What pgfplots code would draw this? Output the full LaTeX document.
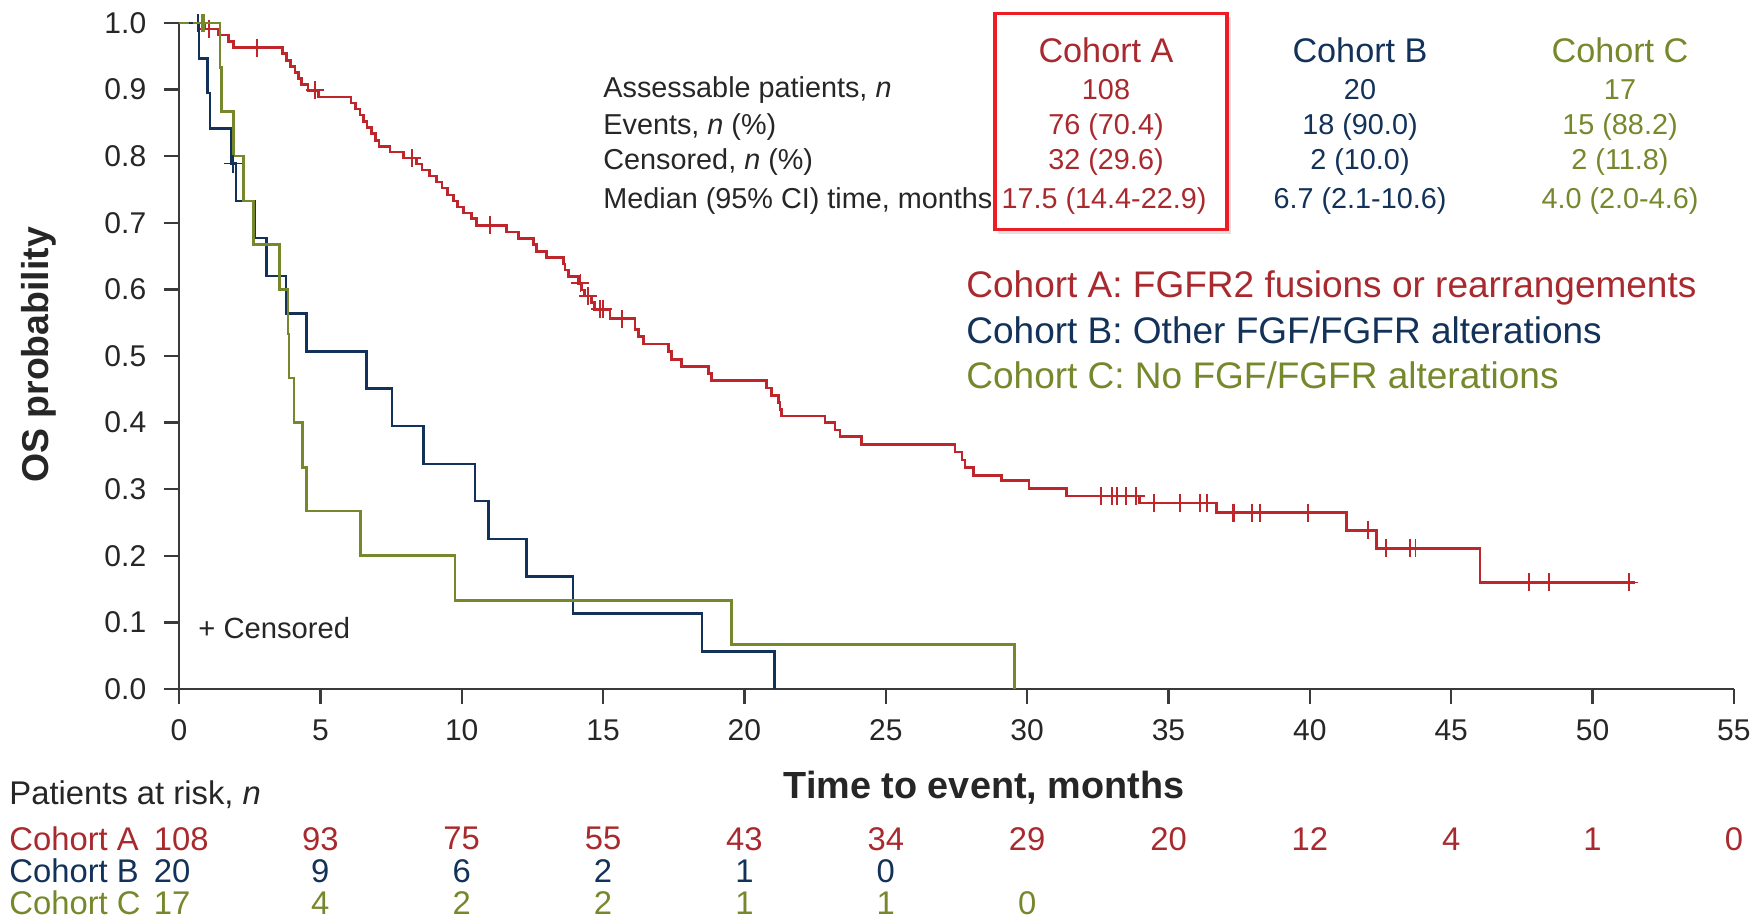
\documentclass[border=0pt]{standalone}
\usepackage{fontspec}
\setmainfont{Liberation Sans}
\usepackage{pgfplots}
\usepackage{pgfplotstable}
\pgfplotsset{compat=1.18}

\definecolor{cohA}{HTML}{BE262C}
\definecolor{cohAtxt}{HTML}{A92A2E}
\definecolor{cohB}{HTML}{12325A}
\definecolor{cohC}{HTML}{76882C}
\definecolor{axisgray}{HTML}{3A3A3A}
\definecolor{txt}{HTML}{262626}
\definecolor{boxred}{HTML}{EE1C24}

% Kaplan-Meier steps: from time t the survival is S
\pgfplotstableread{
t S
0.00 1.000
0.90 0.991
1.39 0.982
1.75 0.972
1.92 0.963
3.66 0.954
3.81 0.944
3.95 0.935
4.10 0.926
4.22 0.917
4.34 0.908
4.57 0.899
4.93 0.889
6.08 0.880
6.25 0.871
6.40 0.862
6.52 0.852
6.65 0.843
6.80 0.834
6.95 0.824
7.08 0.815
7.46 0.806
7.94 0.797
8.41 0.788
8.60 0.779
8.85 0.770
9.11 0.761
9.30 0.752
9.50 0.742
9.70 0.733
9.85 0.724
10.06 0.715
10.35 0.706
10.53 0.696
11.59 0.686
12.00 0.676
12.53 0.667
12.65 0.657
13.00 0.648
13.60 0.638
13.65 0.629
13.77 0.619
14.13 0.609
14.24 0.599
14.35 0.590
14.60 0.580
14.70 0.570
15.25 0.556
16.13 0.540
16.25 0.529
16.42 0.518
17.31 0.507
17.43 0.495
17.78 0.484
18.72 0.474
18.84 0.463
20.79 0.452
20.96 0.441
21.20 0.430
21.26 0.420
21.32 0.410
22.85 0.400
23.20 0.389
23.38 0.379
24.15 0.367
27.45 0.356
27.69 0.344
27.80 0.333
28.10 0.321
29.10 0.313
30.07 0.301
31.39 0.290
33.98 0.279
36.69 0.265
41.29 0.238
42.35 0.211
46.02 0.160
51.50 0.160
}\cohortA

\pgfplotstableread{
t S
1.07 0.991
2.75 0.963
4.80 0.899
8.23 0.797
11.00 0.696
14.20 0.609
14.48 0.590
14.90 0.570
15.00 0.570
15.66 0.556
32.60 0.290
33.00 0.290
33.19 0.290
33.50 0.290
33.86 0.290
34.50 0.279
35.42 0.279
36.12 0.279
36.36 0.279
37.28 0.265
37.33 0.265
37.96 0.265
38.23 0.265
39.94 0.265
42.06 0.238
42.70 0.211
43.54 0.211
43.74 0.211
47.76 0.160
48.45 0.160
51.30 0.160
}\cohortAcens

\pgfplotstableread{
t S
0.00 1.000
0.71 0.947
1.01 0.895
1.10 0.842
1.86 0.789
2.02 0.733
2.69 0.677
3.10 0.620
3.78 0.564
4.50 0.507
6.64 0.451
7.53 0.395
8.65 0.338
10.47 0.282
10.95 0.225
12.30 0.169
13.93 0.113
18.50 0.056
21.06 0.000
}\cohortB

\pgfplotstableread{
t S
0.66 1.000
1.92 0.789
}\cohortBcens

\pgfplotstableread{
t S
0.00 1.000
1.45 0.933
1.51 0.867
1.92 0.800
2.28 0.733
2.64 0.667
3.55 0.600
3.85 0.533
3.89 0.467
4.07 0.400
4.37 0.333
4.50 0.267
6.43 0.200
9.76 0.133
19.55 0.067
29.55 0.000
}\cohortC

\pgfplotstableread{
t S
0.80 1.000
0.88 1.000
}\cohortCcens

\newcommand{\fs}[1]{\fontsize{#1}{#1}\selectfont}

\begin{document}
\begin{tikzpicture}
\useasboundingbox (0,0) rectangle (878.5pt,460pt);

\begin{axis}[
  at={(89.5pt,115.5pt)}, anchor=south west,
  scale only axis, width=777.45pt, height=333pt,
  xmin=0, xmax=55, ymin=0, ymax=1,
  axis lines=left,
  axis line style={-, axisgray, line width=1.2pt},
  xtick={0,5,10,15,20,25,30,35,40,45,50,55},
  ytick={0,0.1,0.2,0.3,0.4,0.5,0.6,0.7,0.8,0.9,1.0},
  tick align=outside, major tick length=7.5pt,
  tick style={axisgray, line width=1.2pt},
  /pgf/number format/assume math mode=true,
  yticklabel style={/pgf/number format/fixed, /pgf/number format/fixed zerofill, /pgf/number format/precision=1},
  yticklabel style={font=\fs{15}, text=txt, inner sep=0pt, anchor=east, xshift=-8.7pt},
  xticklabel style={font=\fs{15}, text=txt, inner sep=0pt, anchor=north, yshift=-7.7pt},
  clip=false,
]
\addplot[const plot, cohA, line width=1.3pt] table[x=t, y=S] {\cohortA};
\addplot[const plot, cohB, line width=1.3pt] table[x=t, y=S] {\cohortB};
\addplot[const plot, cohC, line width=1.3pt] table[x=t, y=S] {\cohortC};
\addplot[only marks, mark=+, mark size=4.5pt, cohA, mark options={line width=0.9pt}] table[x=t, y=S] {\cohortAcens};
\addplot[only marks, mark=+, mark size=4.5pt, cohB, mark options={line width=0.9pt}] table[x=t, y=S] {\cohortBcens};
\addplot[only marks, mark=+, mark size=4.5pt, cohC, mark options={line width=0.9pt}] table[x=t, y=S] {\cohortCcens};
\end{axis}

% axis titles
\node[rotate=90, font=\fs{18.7}\bfseries, text=txt] at (19.5pt,282.5pt) {OS probability};
\node[font=\fs{18.9}\bfseries, text=txt] at (492pt,66pt) {Time to event, months};
\node[anchor=west, inner sep=0pt, font=\fs{14.6}, text=txt] at (99pt,145.8pt) {+ Censored};

% summary table
\fill[black!12] (499pt,343.2pt) rectangle (615.5pt,451.3pt);
\fill[white] (497.5pt,345.2pt) rectangle (613.5pt,453.2pt);
\draw[boxred, line width=1.75pt] (497.5pt,345.2pt) rectangle (613.5pt,453.2pt);
\begin{scope}[every node/.style={font=\fs{14.4}, inner sep=0pt}]
\node[anchor=west, text=txt] at (301.5pt,415.2pt) {Assessable patients, \textit{n}};
\node[anchor=west, text=txt] at (301.5pt,396.7pt) {Events, \textit{n} (\%)};
\node[anchor=west, text=txt] at (301.5pt,378.75pt) {Censored, \textit{n} (\%)};
\node[anchor=west, text=txt] at (301.5pt,359.7pt) {Median (95\% CI) time, months};
\node[font=\fs{17.1}, text=cohAtxt] at (553pt,434.8pt) {Cohort A};
\node[font=\fs{17.1}, text=cohB] at (680pt,434.8pt) {Cohort B};
\node[font=\fs{17.1}, text=cohC] at (810pt,434.8pt) {Cohort C};
\node[text=cohAtxt] at (553pt,415.2pt) {108};
\node[text=cohAtxt] at (553pt,396.7pt) {76 (70.4)};
\node[text=cohAtxt] at (553pt,378.75pt) {32 (29.6)};
\node[text=cohAtxt] at (552pt,359.7pt) {17.5 (14.4-22.9)};
\node[text=cohB] at (680pt,415.2pt) {20};
\node[text=cohB] at (680pt,396.7pt) {18 (90.0)};
\node[text=cohB] at (680pt,378.75pt) {2 (10.0)};
\node[text=cohB] at (680pt,359.7pt) {6.7 (2.1-10.6)};
\node[text=cohC] at (810pt,415.2pt) {17};
\node[text=cohC] at (810pt,396.7pt) {15 (88.2)};
\node[text=cohC] at (810pt,378.75pt) {2 (11.8)};
\node[text=cohC] at (810pt,359.7pt) {4.0 (2.0-4.6)};
\end{scope}

% cohort descriptions
\begin{scope}[every node/.style={font=\fs{18.5}, inner sep=0pt, anchor=west}]
\node[text=cohAtxt] at (483pt,316pt) {Cohort A: FGFR2 fusions or rearrangements};
\node[text=cohB] at (483pt,294.75pt) {Cohort B: Other FGF/FGFR alterations};
\node[text=cohC] at (483pt,272.3pt) {Cohort C: No FGF/FGFR alterations};
\end{scope}

% patients at risk
\begin{scope}[every node/.style={font=\fs{16.4}, inner sep=0pt}]
\node[anchor=west, text=txt] at (4.5pt,62.75pt) {Patients at risk, \textit{n}};
\node[anchor=west, text=cohAtxt] at (4.5pt,40.6pt) {Cohort A};
\node[anchor=west, text=cohB] at (4.5pt,24.6pt) {Cohort B};
\node[anchor=west, text=cohC] at (4.5pt,8.6pt) {Cohort C};
\node[anchor=west, text=cohAtxt] at (76.75pt,40.6pt) {108};
\node[anchor=west, text=cohB] at (76.75pt,24.6pt) {20};
\node[anchor=west, text=cohC] at (76.75pt,8.6pt) {17};
\foreach \k/\v in {1/93,2/75,3/55,4/43,5/34,6/29,7/20,8/12,9/4,10/1,11/0}
  \node[text=cohAtxt] at (89.5pt+\k*70.68pt,40.6pt) {\v};
\foreach \k/\v in {1/9,2/6,3/2,4/1,5/0}
  \node[text=cohB] at (89.5pt+\k*70.68pt,24.6pt) {\v};
\foreach \k/\v in {1/4,2/2,3/2,4/1,5/1,6/0}
  \node[text=cohC] at (89.5pt+\k*70.68pt,8.6pt) {\v};
\end{scope}
\end{tikzpicture}
\end{document}
